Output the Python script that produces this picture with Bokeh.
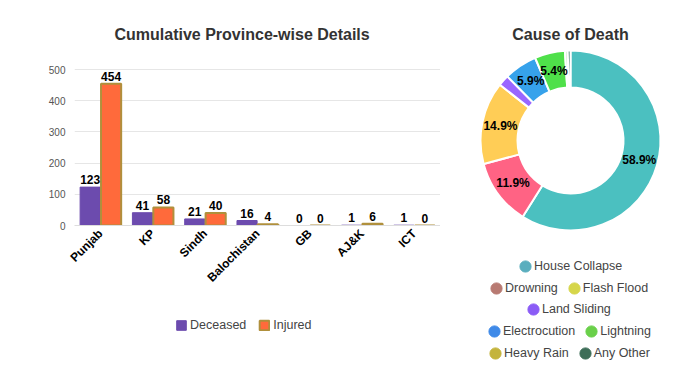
import numpy as np
from bokeh.plotting import figure
from bokeh.models import (ColumnDataSource, Range1d, FactorRange, Legend, LegendItem,
                          FixedTicker)
from bokeh.transform import dodge
from bokeh.layouts import row, column
from bokeh.core.properties import value
from bokeh.embed import file_html
from bokeh.resources import INLINE

# ---------------- data ----------------
provinces = ["Punjab", "KP", "Sindh", "Balochistan", "GB", "AJ&K", "ICT"]
deceased = [123, 41, 21, 16, 0, 1, 1]
injured = [454, 58, 40, 4, 0, 6, 0]
y_ticks = [0, 100, 200, 300, 400, 500]

causes = ["House Collapse", "Drowning", "Flash Flood", "Land Sliding",
          "Electrocution", "Lightning", "Heavy Rain", "Any Other"]
cause_counts = [119, 24, 30, 4, 12, 11, 1, 1]
slice_colors = ["#4bc0c0", "#ff6384", "#ffcd56", "#9966ff",
                "#36a2eb", "#4fe04a", "#c9f0c0", "#2e6e5a"]
legend_colors = ["#5aaebe", "#b87a72", "#d6d64a", "#8b5cf6",
                 "#3f8ae8", "#6ad04a", "#c4b43c", "#3e6e58"]
legend_rows = [[0], [1, 2], [3], [4, 5], [6, 7]]

FONT = "Liberation Sans"
DEC_FILL, DEC_LINE = "#6c4bae", "#6c4bae"
INJ_FILL, INJ_LINE = "#ff6a3b", "#b0903c"

# ---------------- bar chart ----------------
src = ColumnDataSource(dict(
    prov=provinces, dec=deceased, inj=injured,
    dec_lbl=[str(v) for v in deceased], inj_lbl=[str(v) for v in injured]))

# 500 sits 156 px above 0; the frame has some headroom above it
p1 = figure(frame_width=366, frame_height=180, x_range=FactorRange(*provinces),
            y_range=Range1d(0, 500 * 180 / 156), output_backend="svg",
            toolbar_location=None, min_border_left=74, min_border_right=0,
            min_border_top=45, min_border_bottom=85,
            title="Cumulative Province-wise Details")
p1.outline_line_color = None
p1.title.text_font = FONT
p1.title.text_font_size = "16px"
p1.title.text_font_style = "bold"
p1.title.text_color = "#333333"
p1.title.align = "left"
p1.title.offset = 40
p1.title.standoff = 6

p1.vbar(x=dodge("prov", -0.2, range=p1.x_range), top="dec", width=0.385,
        source=src, fill_color=DEC_FILL, line_color=DEC_LINE, line_width=1)
p1.vbar(x=dodge("prov", 0.2, range=p1.x_range), top="inj", width=0.385,
        source=src, fill_color=INJ_FILL, line_color=INJ_LINE, line_width=2)
p1.text(x=dodge("prov", -0.2, range=p1.x_range), y="dec", text="dec_lbl", source=src,
        text_align="center", text_baseline="bottom", y_offset=-3,
        text_font=value(FONT), text_font_size="12px", text_font_style="bold",
        text_color="#000000")
p1.text(x=dodge("prov", 0.2, range=p1.x_range), y="inj", text="inj_lbl", source=src,
        text_align="center", text_baseline="bottom", y_offset=-3,
        text_font=value(FONT), text_font_size="12px", text_font_style="bold",
        text_color="#000000")

p1.xgrid.grid_line_color = None
p1.ygrid.grid_line_color = "#e6e6e6"
p1.ygrid.ticker = FixedTicker(ticks=y_ticks)
p1.yaxis.ticker = FixedTicker(ticks=y_ticks)
p1.yaxis.axis_line_color = None
p1.yaxis.major_tick_line_color = None
p1.yaxis.minor_tick_line_color = None
p1.yaxis.major_tick_out = 0
p1.yaxis.major_label_standoff = 9
p1.yaxis.major_label_text_font = FONT
p1.yaxis.major_label_text_font_size = "10px"
p1.yaxis.major_label_text_color = "#555555"

p1.xaxis.axis_line_color = "#dddddd"
p1.xaxis.major_tick_line_color = None
p1.xaxis.major_tick_out = 0
p1.xaxis.major_label_orientation = np.pi / 4
p1.xaxis.major_label_standoff = 6
p1.xaxis.major_label_text_font = FONT
p1.xaxis.major_label_text_font_size = "12px"
p1.xaxis.major_label_text_font_style = "bold"
p1.xaxis.major_label_text_color = "#000000"

# legend of the bar chart, in a strip under it
pleg = figure(frame_width=366, frame_height=40, x_range=Range1d(0, 1),
              y_range=Range1d(0, 1), output_backend="svg", toolbar_location=None,
              min_border_left=74, min_border_right=0, min_border_top=0,
              min_border_bottom=0)
pleg.outline_line_color = None
pleg.axis.visible = False
pleg.grid.grid_line_color = None
ld = pleg.vbar(x=[0.5], top=[0], width=0, fill_color=DEC_FILL, line_color=DEC_LINE)
li = pleg.vbar(x=[0.5], top=[0], width=0, fill_color=INJ_FILL, line_color=INJ_LINE,
               line_width=2)
leg1 = Legend(items=[LegendItem(label="Deceased", renderers=[ld], index=0),
                     LegendItem(label="Injured", renderers=[li], index=0)],
              orientation="horizontal", location=(101, 18),
              glyph_width=12, glyph_height=12, label_standoff=3, spacing=12,
              label_text_font=FONT, label_text_font_size="12.5px",
              label_text_color="#444444", border_line_color=None,
              background_fill_alpha=0, padding=0, margin=0)
pleg.add_layout(leg1)

# ---------------- doughnut ----------------
counts = np.array(cause_counts, dtype=float)
frac = counts / counts.sum()
cum_after = np.cumsum(frac)
cum_before = cum_after - frac
start = np.pi / 2 - 2 * np.pi * cum_before
end = np.pi / 2 - 2 * np.pi * cum_after
mid = (start + end) / 2
R_IN, R_OUT = 53, 90
r_mid = (R_IN + R_OUT) / 2
pct = frac * 100
show = pct >= 5
wsrc = ColumnDataSource(dict(cause=causes, start=start, end=end, color=slice_colors))
lsrc = ColumnDataSource(dict(
    x=(r_mid * np.cos(mid))[show], y=(r_mid * np.sin(mid))[show],
    t=[f"{v:.1f}%" for v in pct[show]]))

p2 = figure(frame_width=260, frame_height=325, x_range=Range1d(-130, 130),
            y_range=Range1d(-230, 95),
            output_backend="svg", toolbar_location=None,
            min_border_left=0, min_border_right=0, min_border_top=45, min_border_bottom=0,
            title="Cause of Death")
p2.outline_line_color = None
p2.axis.visible = False
p2.grid.grid_line_color = None
p2.title.text_font = FONT
p2.title.text_font_size = "16px"
p2.title.text_font_style = "bold"
p2.title.text_color = "#333333"
p2.title.align = "center"
p2.title.standoff = 6

p2.annular_wedge(x=0, y=0, inner_radius=R_IN, outer_radius=R_OUT,
                 start_angle="start", end_angle="end", direction="clock",
                 fill_color="color", line_color="white", line_width=2, source=wsrc)
p2.text(x="x", y="y", text="t", source=lsrc, text_align="center",
        text_baseline="middle", text_font=value(FONT), text_font_size="12px",
        text_font_style="bold", text_color="#000000")

# legend rows (one Legend per row, centred like the reference)
row_locs = [(78, 97), (49, 75), (86, 54), (47, 32), (48, 10)]
for idxs, loc in zip(legend_rows, row_locs):
    items = []
    for i in idxs:
        r = p2.ellipse(x=[0], y=[-1000], width=10, height=10,
                       fill_color=legend_colors[i], line_color=legend_colors[i])
        items.append(LegendItem(label=causes[i], renderers=[r], index=0))
    lg = Legend(items=items, orientation="horizontal", location=loc,
                glyph_width=14, glyph_height=14, label_standoff=2, spacing=9,
                label_text_font=FONT, label_text_font_size="12.5px",
                label_text_color="#444444", border_line_color=None,
                background_fill_alpha=0, padding=0, margin=0)
    p2.add_layout(lg)

layout = row(column(p1, pleg), p2)
open("out.html", "w").write(file_html(layout, INLINE))
